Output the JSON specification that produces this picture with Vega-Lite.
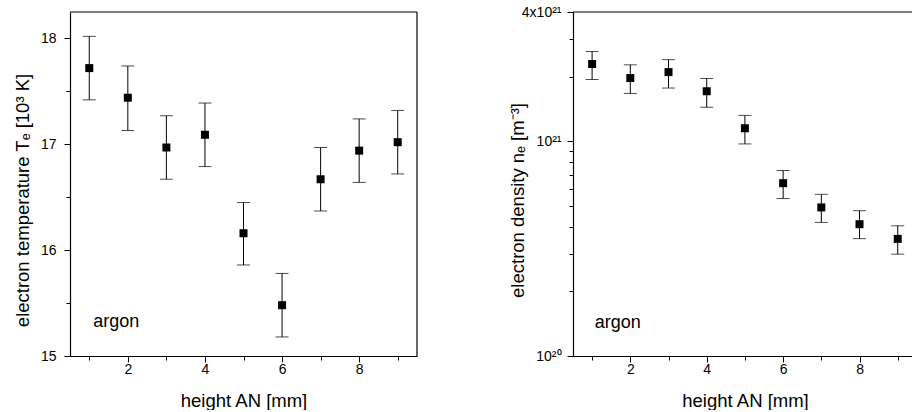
{
  "$schema": "https://vega.github.io/schema/vega-lite/v6.json",
  "background": "white",
  "padding": {"left": 13, "top": 5, "right": 0, "bottom": 0},
  "bounds": "flush",
  "spacing": 156,
  "config": {
    "view": {"stroke": null},
    "font": "Liberation Sans",
    "axis": {
      "grid": false,
      "domainColor": "black",
      "domainWidth": 1.2,
      "tickColor": "black",
      "labelColor": "black",
      "titleColor": "black",
      "labelFont": "Liberation Sans",
      "titleFont": "Liberation Sans",
      "labelFontSize": 14,
      "titleFontSize": 18.5,
      "titleFontWeight": "normal",
      "labelOverlap": false
    }
  },
  "datasets": {
    "temp": [
      {"height": 1, "Te": 17.72, "Te_lo": 17.42, "Te_hi": 18.02},
      {"height": 2, "Te": 17.44, "Te_lo": 17.13, "Te_hi": 17.74},
      {"height": 3, "Te": 16.97, "Te_lo": 16.67, "Te_hi": 17.27},
      {"height": 4, "Te": 17.09, "Te_lo": 16.79, "Te_hi": 17.39},
      {"height": 5, "Te": 16.16, "Te_lo": 15.86, "Te_hi": 16.45},
      {"height": 6, "Te": 15.48, "Te_lo": 15.18, "Te_hi": 15.78},
      {"height": 7, "Te": 16.67, "Te_lo": 16.37, "Te_hi": 16.97},
      {"height": 8, "Te": 16.94, "Te_lo": 16.64, "Te_hi": 17.24},
      {"height": 9, "Te": 17.02, "Te_lo": 16.72, "Te_hi": 17.32}
    ],
    "dens": [
      {"height": 1, "ne": 2.29e21, "ne_lo": 1.94e21, "ne_hi": 2.62e21},
      {"height": 2, "ne": 1.97e21, "ne_lo": 1.67e21, "ne_hi": 2.27e21},
      {"height": 3, "ne": 2.10e21, "ne_lo": 1.77e21, "ne_hi": 2.40e21},
      {"height": 4, "ne": 1.71e21, "ne_lo": 1.44e21, "ne_hi": 1.96e21},
      {"height": 5, "ne": 1.15e21, "ne_lo": 9.72e20, "ne_hi": 1.32e21},
      {"height": 6, "ne": 6.38e20, "ne_lo": 5.41e20, "ne_hi": 7.31e20},
      {"height": 7, "ne": 4.92e20, "ne_lo": 4.19e20, "ne_hi": 5.66e20},
      {"height": 8, "ne": 4.11e20, "ne_lo": 3.52e20, "ne_hi": 4.75e20},
      {"height": 9, "ne": 3.51e20, "ne_lo": 2.98e20, "ne_hi": 4.04e20}
    ]
  },
  "hconcat": [
    {
      "width": 347,
      "height": 344,
      "data": {"name": "temp"},
      "layer": [
        {
          "mark": {"type": "rule", "color": "black", "strokeWidth": 1},
          "encoding": {
            "x": {
              "field": "height",
              "type": "quantitative",
              "title": "height AN [mm]",
              "scale": {"domain": [0.5, 9.5], "nice": false, "zero": false},
              "axis": {
                "values": [1, 2, 3, 4, 5, 6, 7, 8, 9],
                "labelExpr": "datum.value % 2 == 0 ? datum.label : ''",
                "tickSize": {"condition": {"test": "datum.value % 2 == 0", "value": 6}, "value": 4},
                "labelPadding": 0,
                "titleBaseline": "alphabetic",
                "titleY": 50
              }
            },
            "y": {
              "field": "Te_lo",
              "type": "quantitative",
              "title": "electron temperature Tₑ [10³ K]",
              "scale": {"domain": [15, 18.25], "nice": false, "zero": false},
              "axis": {
                "values": [15, 15.25, 15.5, 15.75, 16, 16.25, 16.5, 16.75, 17, 17.25, 17.5, 17.75, 18],
                "labelExpr": "datum.value % 1 == 0 ? format(datum.value, 'd') : ''",
                "tickSize": {"condition": {"test": "datum.value % 1 == 0", "value": 6}, "value": 4},
                "labelPadding": 8,
                "titleBaseline": "alphabetic",
                "titleX": -42,
                "titleY": 188
              }
            },
            "y2": {"field": "Te_hi"}
          }
        },
        {
          "mark": {"type": "tick", "orient": "horizontal", "size": 13, "thickness": 1, "color": "black"},
          "encoding": {
            "x": {"field": "height", "type": "quantitative", "title": "height AN [mm]"},
            "y": {"field": "Te_lo", "type": "quantitative", "title": "electron temperature Tₑ [10³ K]"}
          }
        },
        {
          "mark": {"type": "tick", "orient": "horizontal", "size": 13, "thickness": 1, "color": "black"},
          "encoding": {
            "x": {"field": "height", "type": "quantitative", "title": "height AN [mm]"},
            "y": {"field": "Te_hi", "type": "quantitative", "title": "electron temperature Tₑ [10³ K]"}
          }
        },
        {
          "mark": {"type": "point", "shape": "square", "filled": true, "size": 64, "color": "black", "opacity": 1},
          "encoding": {
            "x": {"field": "height", "type": "quantitative", "title": "height AN [mm]"},
            "y": {"field": "Te", "type": "quantitative", "title": "electron temperature Tₑ [10³ K]"}
          }
        },
        {
          "data": {"values": [{"t": "argon", "hx": 1.1, "ty": 15.27}]},
          "mark": {"type": "text", "align": "left", "baseline": "alphabetic", "fontSize": 18, "color": "black"},
          "encoding": {
            "x": {"field": "hx", "type": "quantitative", "title": "height AN [mm]"},
            "y": {"field": "ty", "type": "quantitative", "title": "electron temperature Tₑ [10³ K]"},
            "text": {"field": "t"}
          }
        },
        {
          "data": {"values": [{}]},
          "mark": {"type": "rule", "color": "black", "strokeWidth": 1.2},
          "encoding": {"y": {"datum": 18.25}}
        },
        {
          "data": {"values": [{}]},
          "mark": {"type": "rule", "color": "black", "strokeWidth": 1.2},
          "encoding": {"x": {"datum": 9.5}}
        }
      ]
    },
    {
      "width": 340,
      "height": 344,
      "data": {"name": "dens"},
      "layer": [
        {
          "mark": {"type": "rule", "color": "black", "strokeWidth": 1},
          "encoding": {
            "x": {
              "field": "height",
              "type": "quantitative",
              "title": "height AN [mm]",
              "scale": {"domain": [0.5, 9.4], "nice": false, "zero": false},
              "axis": {
                "values": [1, 2, 3, 4, 5, 6, 7, 8, 9],
                "labelExpr": "datum.value % 2 == 0 ? datum.label : ''",
                "tickSize": {"condition": {"test": "datum.value % 2 == 0", "value": 6}, "value": 4},
                "labelPadding": 0,
                "titleBaseline": "alphabetic",
                "titleY": 50,
                "titleX": 172
              }
            },
            "y": {
              "field": "ne_lo",
              "type": "quantitative",
              "title": "electron density nₑ [m⁻³]",
              "scale": {"type": "log", "domain": [1e20, 4e21], "nice": false},
              "axis": {
                "values": [1e20, 2e20, 3e20, 4e20, 5e20, 6e20, 7e20, 8e20, 9e20, 1e21, 2e21, 3e21, 4e21],
                "labelExpr": "datum.value == 1e20 ? '10²⁰' : datum.value == 1e21 ? '10²¹' : datum.value == 4e21 ? '4x10²¹' : ''",
                "tickSize": {"condition": {"test": "datum.value == 1e20 || datum.value == 1e21 || datum.value == 4e21", "value": 6}, "value": 4},
                "labelFontSize": 14,
                "labelPadding": 6,
                "titleBaseline": "alphabetic",
                "titleX": -50,
                "titleY": 188
              }
            },
            "y2": {"field": "ne_hi"}
          }
        },
        {
          "mark": {"type": "tick", "orient": "horizontal", "size": 13, "thickness": 1, "color": "black"},
          "encoding": {
            "x": {"field": "height", "type": "quantitative", "title": "height AN [mm]"},
            "y": {"field": "ne_lo", "type": "quantitative", "title": "electron density nₑ [m⁻³]"}
          }
        },
        {
          "mark": {"type": "tick", "orient": "horizontal", "size": 13, "thickness": 1, "color": "black"},
          "encoding": {
            "x": {"field": "height", "type": "quantitative", "title": "height AN [mm]"},
            "y": {"field": "ne_hi", "type": "quantitative", "title": "electron density nₑ [m⁻³]"}
          }
        },
        {
          "mark": {"type": "point", "shape": "square", "filled": true, "size": 64, "color": "black", "opacity": 1},
          "encoding": {
            "x": {"field": "height", "type": "quantitative", "title": "height AN [mm]"},
            "y": {"field": "ne", "type": "quantitative", "title": "electron density nₑ [m⁻³]"}
          }
        },
        {
          "data": {"values": [{"t": "argon", "hx": 1.07, "ty": 1.35e20}]},
          "mark": {"type": "text", "align": "left", "baseline": "alphabetic", "fontSize": 18, "color": "black"},
          "encoding": {
            "x": {"field": "hx", "type": "quantitative", "title": "height AN [mm]"},
            "y": {"field": "ty", "type": "quantitative", "title": "electron density nₑ [m⁻³]"},
            "text": {"field": "t"}
          }
        },
        {
          "data": {"values": [{}]},
          "mark": {"type": "rule", "color": "black", "strokeWidth": 1.2},
          "encoding": {"y": {"datum": 4e21}}
        }
      ]
    }
  ]
}
